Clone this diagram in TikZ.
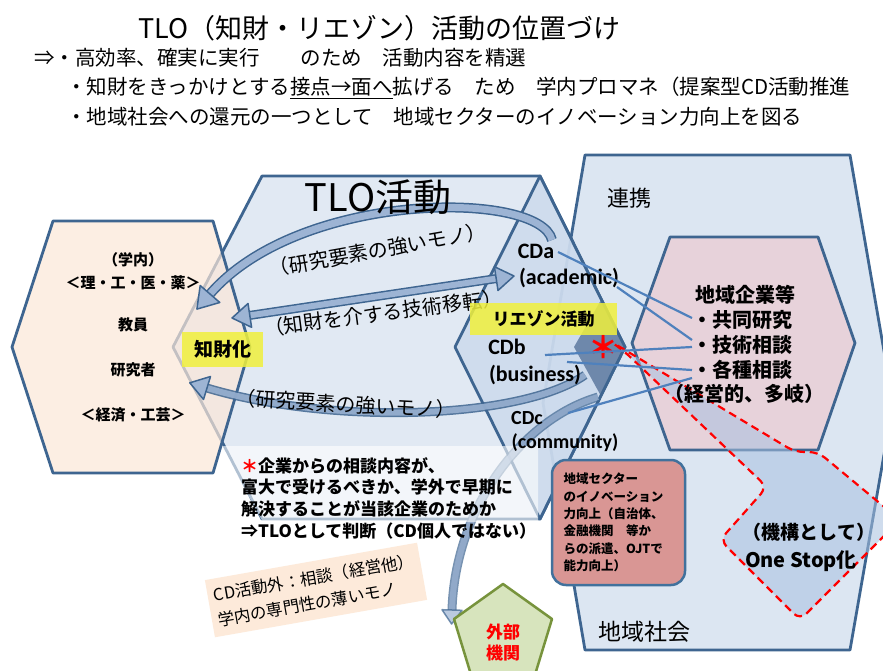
\documentclass[tikz,border=0pt]{standalone}
\usepackage{fontspec}
\setmainfont{Noto Sans CJK JP}
\newfontfamily\latf{Carlito}
\definecolor{bl}{HTML}{3E6590}
\definecolor{lbl}{HTML}{DCE6F2}
\definecolor{cdf}{HTML}{C3D4EA}
\definecolor{peach}{HTML}{FCE7D8}
\definecolor{peach2}{HTML}{FDEADA}
\definecolor{pinkh}{HTML}{E7D2DA}
\definecolor{arrf}{HTML}{9DB4D4}
\definecolor{conn}{HTML}{4F81BD}
\definecolor{rose}{HTML}{D99694}
\definecolor{roseb}{HTML}{41719C}
\definecolor{olive}{HTML}{D7E4BD}
\definecolor{oliveb}{HTML}{77933C}
\definecolor{yel}{HTML}{F0F03C}
\definecolor{darkd}{HTML}{6E88AB}
\definecolor{osf}{HTML}{A8C1E0}
\newcommand\fz[2]{\fontsize{#1}{#2}\selectfont}
\tikzset{
  shp/.style={draw=bl, line width=2.8pt, line join=round},
  txt/.style={inner sep=0pt, text=black},
  band/.style={draw=bl, line width=1.5pt, double=arrf, double distance=6pt},
  head/.style={fill=arrf, draw=bl, line width=1.5pt, line join=round},
  cline/.style={draw=conn, line width=2.2pt},
  hl/.style={fill=yel, fill opacity=0.85, text opacity=1, inner sep=0pt},
}
\begin{document}
\begin{tikzpicture}[x=1pt,y=-1pt]
\useasboundingbox (0,0) rectangle (883,671);
\fill[white] (0,0) rectangle (883,671);
% header
\node[txt, anchor=west] (title) at (138,28) {\fz{27}{30}TLO（知財・リエゾン）活動の位置づけ};
\node[txt, anchor=west] (l1) at (34,58) {\fz{20.5}{24}⇒・高効率、確実に実行　　のため　活動内容を精選};
\node[txt, anchor=west] (l2) at (66,88) {\fz{20.5}{24}・知財をきっかけとする\underline{接点→面へ}拡げる　ため　学内プロマネ（提案型CD活動推進};
\node[txt, anchor=west] (l3) at (66,117) {\fz{20.5}{24}・地域社会への還元の一つとして　地域セクターのイノベーション力向上を図る};
% renkei hexagon
\path[shp, fill=lbl] (585,155) -- (850,155) -- (893,403) -- (850,650) -- (585,650) -- (543,403) -- cycle;
% TLO hexagon
\path[shp, fill=lbl, fill opacity=0.85] (262,176) -- (540,176) -- (625,347) -- (540,519) -- (262,519) -- (173,347) -- cycle;
% CD diamond
\fill[cdf, opacity=0.6] (540,176) -- (625,347) -- (540,519) -- (455,347) -- cycle;
\fill[darkd] (601,300) -- (625,347) -- (601,396) -- (574,347) -- cycle;
\draw[shp] (540,176) -- (625,347) -- (540,519) -- (455,347) -- cycle;
% arrow to external
\draw[band, opacity=0.7] (598,397) .. controls (520,420) and (455,510) .. (452,610);
\filldraw[head, opacity=0.7] (451.6,624) -- (462,610.3) -- (442,609.7) -- cycle;
% whitish panel
\fill[white, opacity=0.6] (221,446) -- (538,446) -- (538,522) -- (263,522) -- cycle;
% left hexagon
\path[shp, fill=peach, fill opacity=0.7] (53,221) -- (213,221) -- (250,347) -- (213,473) -- (53,473) -- (12,347) -- cycle;
% companies hexagon
\path[shp, fill=pinkh] (670,237) -- (818,237) -- (855,343) -- (818,450) -- (670,450) -- (632,343) -- cycle;
% one stop dashed shape
\path[draw=red, line width=2.2pt, dash pattern=on 8pt off 5pt, fill=osf, fill opacity=0.55, rounded corners=9pt]
  (610,341) -- (795,452) -- (818,452) -- (900,520) -- (800,620) -- (720,540) -- (767,487) -- (625,352) -- cycle;
% block arrows
\draw[band, double distance=7pt] (552,240) .. controls (540,190) and (300,190) .. (210,294);
\filldraw[head] (196.9,309.1) -- (219.8,302.5) -- (200.2,285.5) -- cycle;
\draw[band] (249.8,315.4) -- (496.2,278.6);
\filldraw[head] (232,318) -- (251.6,327.3) -- (248,303.5) -- cycle;
\filldraw[head] (514,276) -- (498,290.5) -- (494.4,266.7) -- cycle;
\draw[band, opacity=0.85] (585,375) .. controls (520,420) and (330,425) .. (207,388);
\filldraw[head] (189.8,382.8) -- (210.5,376.5) -- (203.5,399.5) -- cycle;
% sector box
\node[draw=roseb, line width=2.5pt, fill=rose, rounded corners=14pt, minimum width=133pt, minimum height=125pt, text width=110pt, inner xsep=11.5pt, align=left, font=\bfseries\fz{12.5}{17.4}] (sector) at (618.5,522.5)
  {地域セクター\\のイノベーション\\力向上（自治体、\\金融機関　等か\\らの派遣、OJTで\\能力向上）};
% external pentagon
\path[draw=oliveb, line width=2.5pt, fill=olive, line join=round] (503,584) -- (552,619) -- (534,678) -- (472,678) -- (454,619) -- cycle;
\node[txt, text=red, font=\bfseries\fz{17}{21}, align=center] (ext) at (503,643) {外部\\機関};
% CD outside box
\node[fill=peach2, rotate=10, minimum width=213pt, minimum height=58pt, align=left, inner xsep=6pt, font=\fz{16.5}{25}] (cdout) at (316,590) {CD活動外：相談（経営他）\\学内の専門性の薄いモノ};
% texts
\node[txt, font=\fz{38}{40}] (tlo) at (378,197) {TLO活動};
\node[txt, font=\fz{20}{22}, rotate=10] (lab1) at (378,250) {（研究要素の強いモノ）};
\node[txt, font=\fz{20}{22}, rotate=7.5] (lab2) at (383,313) {（知財を介する技術移転）};
\node[txt, font=\fz{20}{22}, rotate=-3] (lab3) at (346,404) {（研究要素の強いモノ）};
\node[txt, font=\bfseries\fz{15}{18}] (h1) at (133,260) {（学内）};
\node[txt, font=\bfseries\fz{15}{18}] (h2) at (133,283) {＜理・工・医・薬＞};
\node[txt, font=\bfseries\fz{15}{18}] (h3) at (133,325) {教員};
\node[txt, font=\bfseries\fz{15}{18}] (h4) at (133,370) {研究者};
\node[txt, font=\bfseries\fz{15}{18}] (h5) at (133,415) {＜経済・工芸＞};
\node[hl, minimum width=81pt, minimum height=35pt, font=\bfseries\fz{19}{22}] (chizai) at (222.5,349.5) {知財化};
\node[hl, minimum width=147pt, minimum height=32pt, font=\bfseries\fz{17}{20}] (liaison) at (543.5,319) {リエゾン活動};
\node[txt, font=\latf\bfseries\fz{22}{24}] (cda) at (536,251) {CDa};
\node[txt, font=\latf\bfseries\fz{22}{24}] (acad) at (569,278) {(academic)};
\node[txt, font=\latf\bfseries\fz{22}{24}] (cdb) at (507,347) {CDb};
\node[txt, font=\latf\bfseries\fz{22}{24}] (bus) at (535,375) {(business)};
\node[txt, font=\latf\bfseries\fz{20}{24}] (cdc) at (527,418) {CDc};
\node[txt, font=\latf\bfseries\fz{20}{24}] (com) at (565,443) {(community)};
\node[txt, font=\fz{22}{24}] (renkei) at (629,198) {連携};
\node[txt, font=\fz{23}{24}] (shakai) at (644,632) {地域社会};
\node[txt, font=\bfseries\fz{20}{22}] (kig) at (745,295) {地域企業等};
\node[txt, anchor=west, font=\bfseries\fz{20}{22}] (i1) at (692,320) {・共同研究};
\node[txt, anchor=west, font=\bfseries\fz{20}{22}] (i2) at (692,345) {・技術相談};
\node[txt, anchor=west, font=\bfseries\fz{20}{22}] (i3) at (692,370) {・各種相談};
\node[txt, font=\bfseries\fz{20}{22}] (i4) at (744,394) {（経営的、多岐）};
\node[txt, font=\bfseries\fz{19}{22}] (os1) at (809,532) {（機構として）};
\node[txt, font=\bfseries\fz{20}{22}] (os2) at (801,561) {One Stop化};
\node[txt, text=red, font=\bfseries\fz{30}{30}] (ast) at (603,347) {＊};
\node[txt, anchor=west, align=left, font=\bfseries\fz{17}{21.7}] (panel) at (241,498)
  {\textcolor{red}{＊}企業からの相談内容が、\\富大で受けるべきか、学外で早期に\\解決することが当該企業のためか\\⇒TLOとして判断（CD個人ではない）};
% connectors
\coordinate (s1) at (558,252); \coordinate (e1) at (692,318);
\coordinate (s2) at (617,287); \coordinate (e2) at (692,340);
\coordinate (s3) at (545,355); \coordinate (e3) at (692,347);
\coordinate (s4) at (567,362); \coordinate (e4) at (692,370);
\coordinate (s5) at (568,413); \coordinate (e5) at (692,378);
\draw[cline] (s1) -- (e1);
\draw[cline] (s2) -- (e2);
\draw[cline] (s3) -- (e3);
\draw[cline] (s4) -- (e4);
\draw[cline] (s5) -- (e5);
\end{tikzpicture}
\end{document}
